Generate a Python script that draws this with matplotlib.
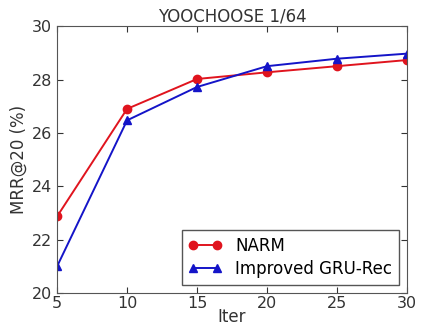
import matplotlib
matplotlib.use("Agg")
import matplotlib.pyplot as plt

iters = [5, 10, 15, 20, 25, 30]
narm = [22.87, 26.9, 28.02, 28.27, 28.5, 28.73]
gru = [21.0, 26.47, 27.72, 28.5, 28.78, 28.97]
xticks = [5, 10, 15, 20, 25, 30]
yticks = [20, 22, 24, 26, 28, 30]

plt.rcParams['font.family'] = ['DejaVu Sans']
fig = plt.figure(figsize=(4.23, 3.27), dpi=100)
ax = fig.add_axes([0.135, 0.104, 0.827, 0.816])
ax.plot(iters, narm, color='#e0141e', marker='o', markersize=6, lw=1.4, label='NARM')
ax.plot(iters, gru, color='#1414c8', marker='^', markersize=6, lw=1.4, label='Improved GRU-Rec')
ax.set_xlim(5, 30)
ax.set_ylim(20, 30)
ax.set_xticks(xticks)
ax.set_yticks(yticks)
ax.tick_params(direction='in', top=True, right=True, labelsize=11.5, colors='#333333', length=4)
ax.tick_params(axis='x', pad=2)
for s in ax.spines.values():
    s.set_color('#555555')
ax.set_xlabel('Iter', fontsize=12, color='#333333', labelpad=-2)
ax.set_ylabel('MRR@20 (%)', fontsize=12, color='#333333', labelpad=3)
ax.set_title('YOOCHOOSE 1/64', fontsize=12, color='#333333', pad=3)
leg = ax.legend(loc='lower right', numpoints=2, fontsize=12, fancybox=False, framealpha=1,
                edgecolor='#555555', borderaxespad=0.5, handlelength=2.0, labelspacing=0.3)
fig.savefig('out.png', dpi=100)
